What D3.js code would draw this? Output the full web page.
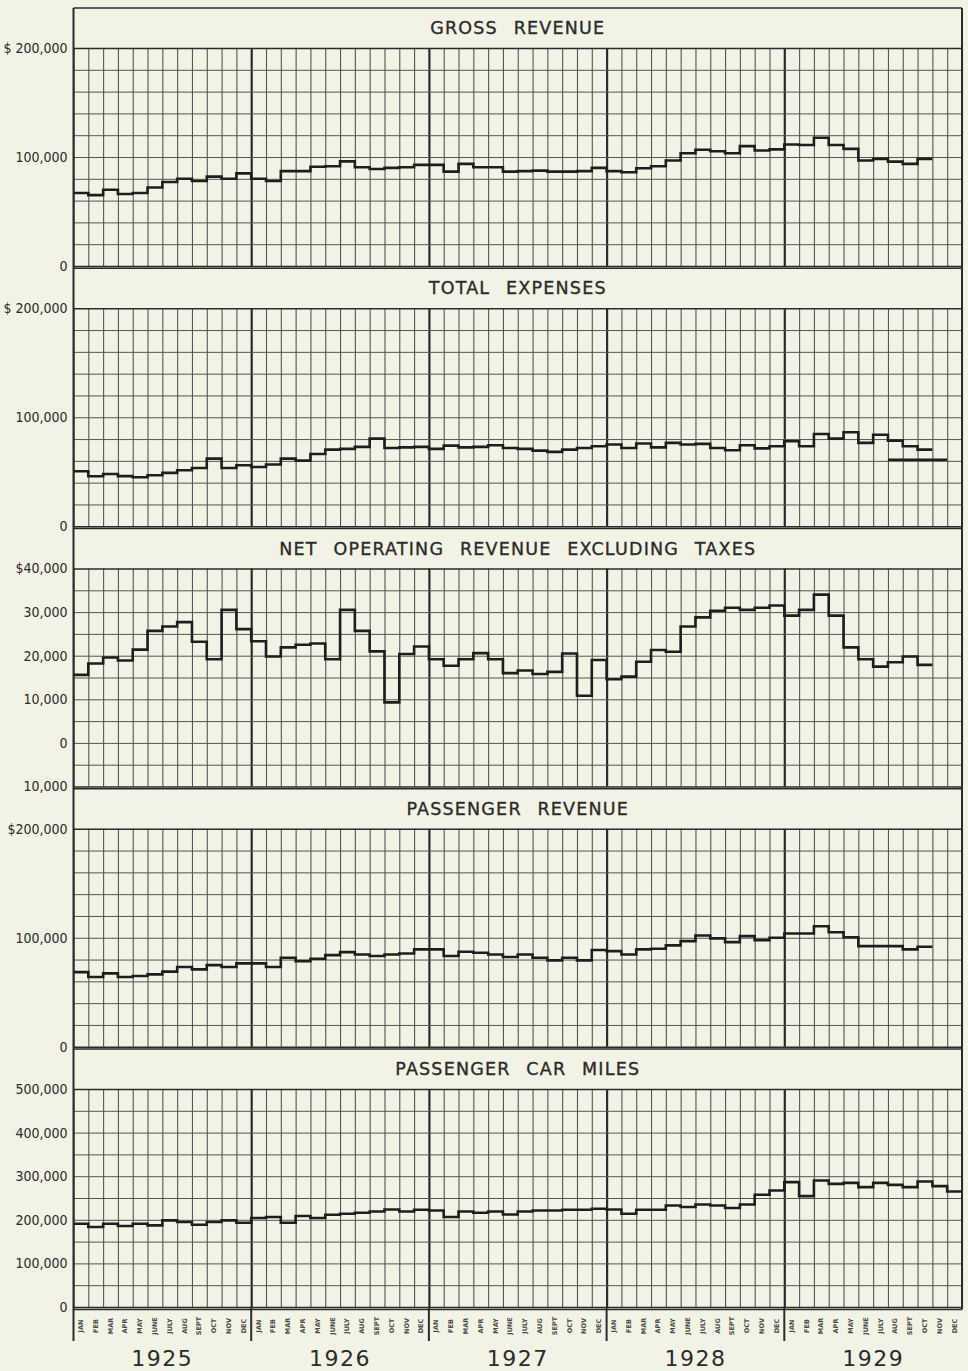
<!DOCTYPE html>
<html>
<head>
<meta charset="utf-8">
<script src="https://cdn.jsdelivr.net/npm/d3@7"></script>
<style>
  html, body { margin: 0; padding: 0; background: #f3f3e5; }
  svg { display: block; }
</style>
</head>
<body>
<svg id="chart" width="968" height="1371"></svg>
<script>
// Monthly operating statistics, Jan 1925 – Dec 1929 (values in thousands)
const monthNames = ["JAN","FEB","MAR","APR","MAY","JUNE","JULY","AUG","SEPT","OCT","NOV","DEC"];
const years = ["1925","1926","1927","1928","1929"];

const grossRevenue = [
  67, 65, 70, 66, 67, 72, 77, 80, 78, 82, 80, 85,
  80, 78, 87, 87, 91, 91.5, 96, 90.6, 89, 90, 90.6, 92.8,
  92.8, 86.6, 93.7, 90.6, 90.6, 86.6, 87, 87.5, 86.6, 86.6, 87, 90,
  87, 86, 89.7, 91.5, 96.8, 103.5, 106.6, 105.3, 103.5, 110, 106, 107,
  111.5, 111, 117.7, 111, 107.5, 96.8, 98.3, 95.8, 93.7, 98.3
];
const totalExpenses = [
  50.5, 45.9, 48, 46, 45, 46.8, 49, 51.4, 53.5, 62, 53.5, 56,
  54.4, 56.6, 62, 60.2, 66.3, 70.3, 71, 72.8, 80.4, 71.8, 72.4, 72.8,
  71, 74, 72.4, 72.8, 74.3, 71.8, 71, 69.4, 68.2, 70.3, 71.8, 73.4,
  75, 71.8, 75.9, 72.4, 76.5, 75, 75.6, 71.8, 69.7, 74.3, 71.4, 73.4,
  78, 73.4, 84.7, 80.4, 86.2, 76.5, 84, 78.6, 73.4, 70.3
];
// second expense trace, Aug – Nov 1929
const totalExpensesLateStart = 55;
const totalExpensesLate = [61, 61, 61, 61];
const netOperatingRevenue = [
  15.6, 18.2, 19.6, 18.9, 21.4, 25.7, 26.7, 27.7, 23.2, 19.2, 30.5, 26.1,
  23.3, 19.8, 21.9, 22.5, 22.8, 19.2, 30.5, 25.7, 21, 9.3, 20.4, 22.1,
  19.2, 17.7, 19.2, 20.6, 19.2, 16, 16.6, 15.8, 16.3, 20.5, 10.8, 19,
  14.6, 15.2, 18.6, 21.3, 20.9, 26.7, 28.8, 30.3, 31, 30.5, 31, 31.5,
  29.2, 30.5, 34, 29.2, 21.9, 19.2, 17.5, 18.5, 19.8, 17.9
];
const passengerRevenue = [
  68.5, 64, 67.3, 64, 64.9, 66.4, 68.9, 73.1, 71, 74.9, 73.1, 76.5,
  76.5, 73.1, 81.7, 78.6, 80.8, 84.1, 86.8, 84.7, 83.2, 84.7, 85.6, 89.3,
  89.3, 83.2, 87.2, 86.3, 84.7, 82.3, 84.7, 81.7, 79.2, 81.7, 79.2, 88.7,
  87.7, 84.7, 89.3, 89.9, 93, 96.9, 102.1, 99.4, 96, 101.5, 97.8, 100,
  103.9, 103.9, 110.6, 105.1, 100.5, 92.3, 92.3, 92.3, 89.3, 91.8
];
const passengerCarMiles = [
  191, 183.5, 191, 185.8, 191, 187.2, 198.6, 195, 188.8, 195, 198.6, 193.4,
  204, 206.4, 193.4, 208.7, 204, 211.6, 213.9, 216.2, 219.2, 223.7, 219.2, 223,
  221.5, 206.4, 219.2, 216.2, 219.2, 212.3, 219.2, 221.5, 221.5, 223, 223, 225.3,
  223.7, 213.9, 223, 223, 232.9, 229.2, 235.2, 232.9, 226.9, 235.2, 257.3, 267.1,
  286.3, 254.3, 290, 282.4, 284.7, 274.9, 284.7, 280.1, 274.9, 287.7, 277.2, 264.8
];

const panelTitles = ["GROSS REVENUE", "TOTAL EXPENSES", "NET OPERATING REVENUE EXCLUDING TAXES",
                     "PASSENGER REVENUE", "PASSENGER CAR MILES"];
const dollarTickValues = [0, 100, 200];
const dollarTickLabels = ["0", "100,000", "$ 200,000"];
const dollarTickLabels2 = ["0", "100,000", "$200,000"];
const netTickValues = [-10, 0, 10, 20, 30, 40];
const netTickLabels = ["10,000", "0", "10,000", "20,000", "30,000", "$40,000"];
const milesTickValues = [0, 100, 200, 300, 400, 500];
const milesTickLabels = ["0", "100,000", "200,000", "300,000", "400,000", "500,000"];

const panels = [
  { title: panelTitles[0], domain: [0, 200], step: 20, ticks: dollarTickValues, labels: dollarTickLabels,
    series: [{ start: 0, values: grossRevenue }] },
  { title: panelTitles[1], domain: [0, 200], step: 20, ticks: dollarTickValues, labels: dollarTickLabels,
    series: [{ start: 0, values: totalExpenses }, { start: totalExpensesLateStart, values: totalExpensesLate }] },
  { title: panelTitles[2], domain: [-10, 40], step: 5, ticks: netTickValues, labels: netTickLabels,
    series: [{ start: 0, values: netOperatingRevenue }] },
  { title: panelTitles[3], domain: [0, 200], step: 20, ticks: dollarTickValues, labels: dollarTickLabels2,
    series: [{ start: 0, values: passengerRevenue }] },
  { title: panelTitles[4], domain: [0, 500], step: 50, ticks: milesTickValues, labels: milesTickLabels,
    series: [{ start: 0, values: passengerCarMiles }] }
];

const ink = "#2b2b2b";
const gridInk = "#55554f";
const x0 = 73.5, x1 = 962;
const plotH = 218, firstTop = 48, pitch = 260.25, bandH = 40;
const nMonths = 60;

const svg = d3.select("#chart");
const x = d3.scaleLinear().domain([0, nMonths]).range([x0, x1]);

const line = d3.line()
  .x(d => x(d[0]))
  .y(d => d[1])
  .curve(d3.curveStepAfter);

panels.forEach((p, k) => {
  const top = firstTop + k * pitch;
  const bottom = top + plotH;
  const y = d3.scaleLinear().domain(p.domain).range([bottom, top]);
  const g = svg.append("g");

  // title band
  g.append("line").attr("x1", x0).attr("x2", x1)
    .attr("y1", top - bandH).attr("y2", top - bandH)
    .attr("stroke", ink).attr("stroke-width", 1.6);
  g.append("text")
    .attr("x", (x0 + x1) / 2).attr("y", top - 14)
    .attr("text-anchor", "middle")
    .attr("font-family", "'DejaVu Sans', 'Open Sans', sans-serif")
    .attr("font-size", 17.5)
    .attr("letter-spacing", 1.2)
    .attr("word-spacing", 9)
    .attr("fill", ink)
    .attr("stroke", ink)
    .attr("stroke-width", 0.35)
    .text(p.title);

  // vertical month grid
  const gx = g.append("g")
    .attr("transform", `translate(0,${bottom})`)
    .call(d3.axisBottom(x).tickValues(d3.range(0, nMonths + 1)).tickSize(-plotH).tickFormat(""));
  gx.select(".domain").remove();
  gx.selectAll(".tick line")
    .attr("stroke", (d) => (d % 12 === 0 ? ink : gridInk))
    .attr("stroke-width", (d) => (d % 12 === 0 && d > 0 && d < nMonths ? 2.2 : 1.1));

  // horizontal grid with value labels
  const gridVals = d3.range(p.domain[0], p.domain[1] + p.step / 2, p.step);
  const labelOf = new Map(p.ticks.map((v, i) => [v, p.labels[i]]));
  const gy = g.append("g")
    .attr("transform", `translate(${x0},0)`)
    .call(d3.axisLeft(y).tickValues(gridVals).tickSize(-(x1 - x0)).tickPadding(6)
      .tickFormat(v => labelOf.get(v) || ""));
  gy.select(".domain").remove();
  gy.selectAll(".tick line")
    .attr("stroke", (d) => (d === p.domain[1] || d === p.domain[0] ? ink : gridInk))
    .attr("stroke-width", (d) => (d === p.domain[1] || d === p.domain[0] ? 1.6 : 1));
  gy.selectAll(".tick text")
    .attr("font-family", "'Liberation Sans Narrow', 'DejaVu Sans Condensed', 'Arial Narrow', sans-serif")
    .attr("font-size", 14)
    .attr("fill", ink);

  // monthly step traces
  p.series.forEach(s => {
    const pts = s.values.map((v, i) => [s.start + i, y(v)]);
    pts.push([s.start + s.values.length, y(s.values[s.values.length - 1])]);
    g.append("path")
      .attr("d", line(pts))
      .attr("fill", "none")
      .attr("stroke", "#1e1e1e")
      .attr("stroke-width", 2.6)
      .attr("stroke-linejoin", "miter");
  });
});

// frame and month strip
const lastBottom = firstTop + 4 * pitch + plotH;
const stripBottom = lastBottom + 34;
svg.append("line").attr("x1", x0).attr("x2", x1)
  .attr("y1", lastBottom + 2.5).attr("y2", lastBottom + 2.5)
  .attr("stroke", ink).attr("stroke-width", 1.4);
svg.append("line").attr("x1", x0).attr("x2", x0)
  .attr("y1", firstTop - bandH).attr("y2", stripBottom)
  .attr("stroke", ink).attr("stroke-width", 2);
svg.append("line").attr("x1", x1).attr("x2", x1)
  .attr("y1", firstTop - bandH).attr("y2", lastBottom + 2.5)
  .attr("stroke", ink).attr("stroke-width", 2);

svg.append("g").selectAll("line")
  .data([12, 24, 36, 48])
  .join("line")
  .attr("x1", d => x(d)).attr("x2", d => x(d))
  .attr("y1", lastBottom).attr("y2", stripBottom)
  .attr("stroke", ink).attr("stroke-width", 2);

svg.append("g").selectAll("text")
  .data(d3.range(nMonths))
  .join("text")
  .attr("transform", d => `translate(${x(d + 0.5)},${lastBottom + 19}) rotate(-90)`)
  .attr("text-anchor", "middle")
  .attr("dominant-baseline", "central")
  .attr("font-family", "'DejaVu Sans', sans-serif")
  .attr("font-size", 6.5)
  .attr("font-weight", "bold")
  .attr("fill", "#4a4a4a")
  .text(d => monthNames[d % 12]);

svg.append("g").selectAll("text")
  .data(years)
  .join("text")
  .attr("x", (d, i) => x(i * 12 + 6))
  .attr("y", 1366)
  .attr("text-anchor", "middle")
  .attr("font-family", "'DejaVu Sans', sans-serif")
  .attr("font-size", 22)
  .attr("letter-spacing", 1.5)
  .attr("fill", ink)
  .text(d => d);
</script>
</body>
</html>
